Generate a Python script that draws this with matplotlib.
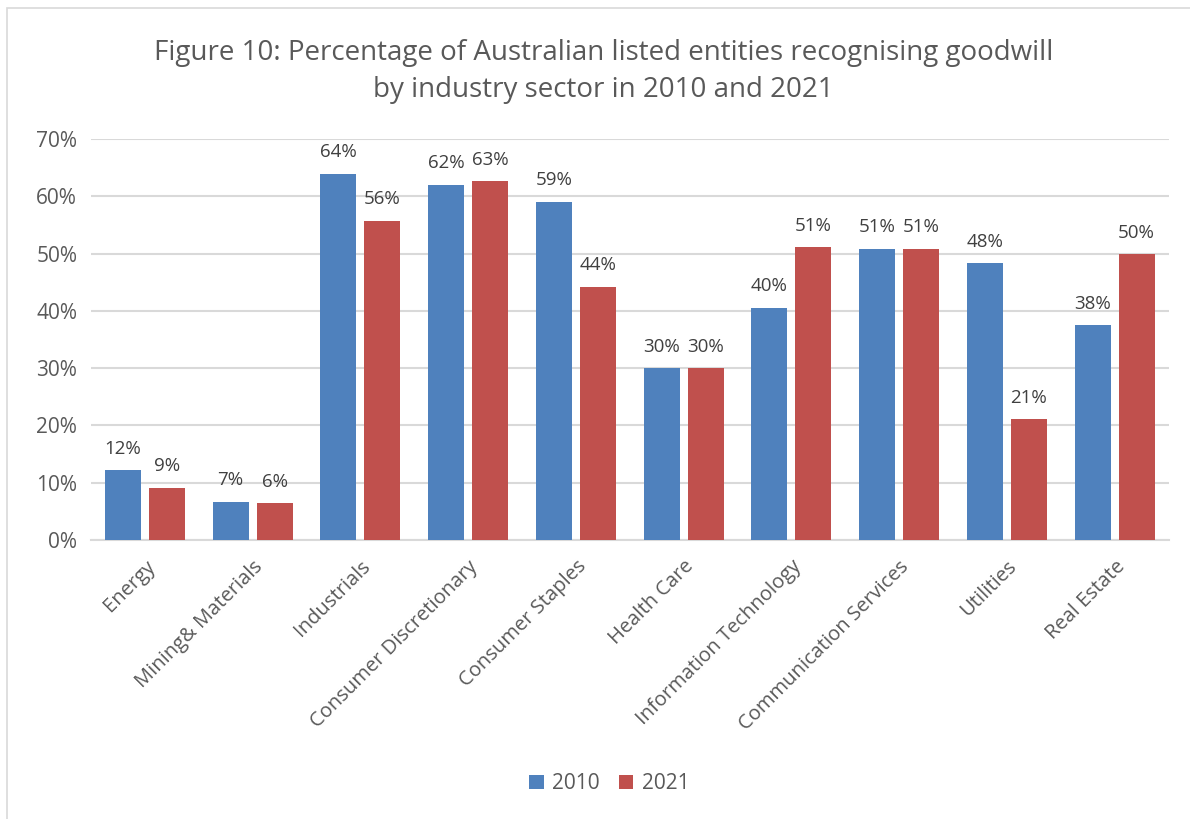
import numpy as np
from matplotlib import pyplot as plt
from matplotlib.patches import Rectangle

sectors = ["Energy", "Mining& Materials", "Industrials", "Consumer Discretionary",
           "Consumer Staples", "Health Care", "Information Technology",
           "Communication Services", "Utilities", "Real Estate"]
pct_2010 = [12.2, 6.7, 63.9, 62.0, 59.0, 30.0, 40.5, 50.8, 48.3, 37.5]
pct_2021 = [9.1, 6.4, 55.7, 62.6, 44.2, 30.0, 51.1, 50.8, 21.1, 49.9]
years = ["2010", "2021"]

blue = "#4F81BD"
red = "#C0504D"
txt = "#595959"

plt.rcParams['font.family'] = ['Open Sans', 'DejaVu Sans']

fig = plt.figure(figsize=(11.9, 8.19), dpi=100)
fig.patches.append(Rectangle((0.006, -0.01), 1.0, 1.0, transform=fig.transFigure,
                             fill=False, edgecolor="#D9D9D9", linewidth=1.2))
ax = fig.add_axes([0.0765, 0.3407, 0.9055, 0.4896])

x = np.arange(len(sectors))
w = 0.334
off = 0.204
b1 = ax.bar(x - off, pct_2010, w, color=blue, label=years[0], zorder=3)
b2 = ax.bar(x + off, pct_2021, w, color=red, label=years[1], zorder=3)

# data labels above bars
for bars, vals in ((b1, pct_2010), (b2, pct_2021)):
    for b, v in zip(bars, vals):
        ax.annotate(f"{v:.0f}%", (b.get_x() + b.get_width() / 2, v),
                    xytext=(0, 9), textcoords="offset points",
                    ha="center", va="bottom", fontsize=13.5, color="#404040")

ax.set_xlim(-0.5, len(sectors) - 0.5)
ax.set_ylim(0, 70)
ax.set_yticks(range(0, 71, 10))
ax.set_yticklabels([f"{t}%" for t in range(0, 71, 10)], fontsize=15, color=txt)
ax.set_xticks(x)
ax.set_xticklabels(sectors, rotation=45, ha="right", rotation_mode="anchor",
                   fontsize=14.5, color=txt)
ax.tick_params(length=0, pad=10)
ax.tick_params(axis="x", pad=12)
ax.grid(axis="y", color="#D9D9D9", linewidth=1.5, zorder=0)
for s in ["top", "right", "left"]:
    ax.spines[s].set_visible(False)
ax.spines["bottom"].set_color("#D9D9D9")
ax.spines["bottom"].set_linewidth(1.5)

fig.text(0.507, 0.913, "Figure 10: Percentage of Australian listed entities recognising goodwill\nby industry sector in 2010 and 2021",
         ha="center", va="center", fontsize=20, color=txt, linespacing=1.45)

fig.legend(loc="center", bbox_to_anchor=(0.512, 0.043), ncol=2, frameon=False,
           fontsize=15, handlelength=0.7, handleheight=0.7, columnspacing=0.9,
           handletextpad=0.4, labelcolor=txt)

plt.savefig("out.png", dpi=100)
